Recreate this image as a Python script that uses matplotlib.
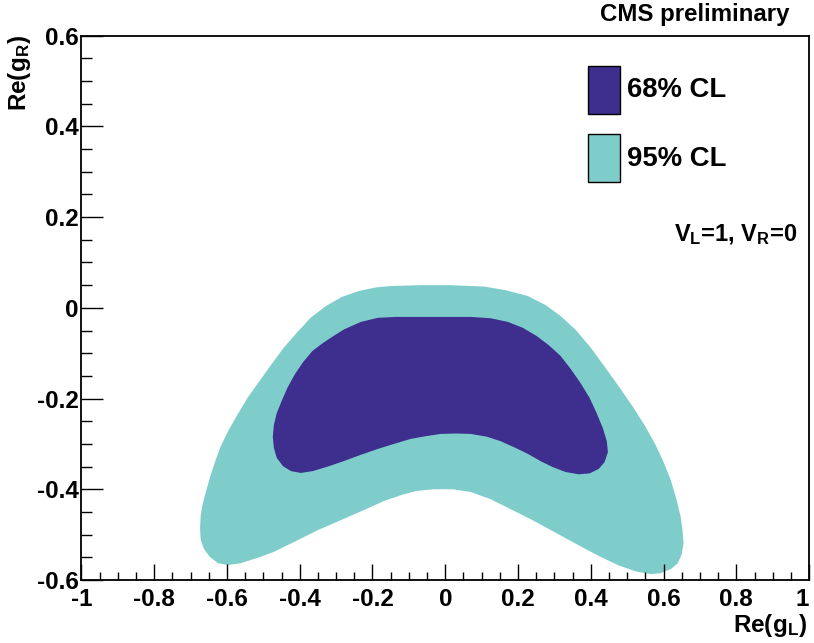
import numpy as np
import matplotlib
matplotlib.use("Agg")
from matplotlib import pyplot as plt
from matplotlib.patches import Rectangle

plt.rcParams['font.family'] = ['Liberation Sans', 'DejaVu Sans']
plt.rcParams['font.weight'] = 'bold'
plt.rcParams['axes.unicode_minus'] = False
plt.rcParams['mathtext.fontset'] = 'custom'
plt.rcParams['mathtext.rm'] = 'Liberation Sans:bold'
plt.rcParams['mathtext.bf'] = 'Liberation Sans:bold'
plt.rcParams['mathtext.it'] = 'Liberation Sans:bold'

# 95% CL contour, traced clockwise (Re(gL), Re(gR))
x95 = [-0.150, -0.067, 0.015, 0.106, 0.166, 0.227, 0.276, 0.317, 0.359, 0.400,
       0.441, 0.482, 0.518, 0.551, 0.578, 0.600, 0.620, 0.636, 0.647, 0.652,
       0.655, 0.650, 0.639, 0.620, 0.592, 0.565, 0.523, 0.474, 0.427, 0.391,
       0.345, 0.290, 0.235, 0.180, 0.125, 0.070, 0.021, -0.032, -0.081, -0.122,
       -0.169, -0.224, -0.287, -0.350, -0.405, -0.471, -0.515, -0.562, -0.598, -0.625,
       -0.647, -0.663, -0.672, -0.674, -0.672, -0.666, -0.658, -0.647, -0.633, -0.617,
       -0.595, -0.570, -0.543, -0.512, -0.479, -0.444, -0.408, -0.370, -0.328, -0.284,
       -0.238, -0.191]
y95 = [0.048, 0.050, 0.050, 0.047, 0.039, 0.026, 0.006, -0.018, -0.049, -0.088,
       -0.133, -0.179, -0.221, -0.263, -0.302, -0.340, -0.380, -0.424, -0.461, -0.490,
       -0.519, -0.543, -0.563, -0.576, -0.585, -0.587, -0.581, -0.567, -0.549, -0.534,
       -0.514, -0.490, -0.466, -0.444, -0.422, -0.406, -0.400, -0.400, -0.404, -0.413,
       -0.426, -0.446, -0.468, -0.490, -0.512, -0.538, -0.551, -0.563, -0.567, -0.563,
       -0.549, -0.532, -0.512, -0.486, -0.457, -0.430, -0.406, -0.375, -0.340, -0.305,
       -0.269, -0.234, -0.198, -0.163, -0.126, -0.088, -0.055, -0.022, 0.004, 0.024,
       0.037, 0.045]

# 68% CL contour
x68 = [-0.185, -0.136, -0.067, 0.001, 0.070, 0.125, 0.172, 0.213, 0.251, 0.284,
       0.317, 0.345, 0.372, 0.397, 0.416, 0.433, 0.444, 0.447, 0.438, 0.422,
       0.397, 0.367, 0.331, 0.295, 0.262, 0.227, 0.191, 0.152, 0.114, 0.070,
       0.029, -0.012, -0.054, -0.095, -0.141, -0.185, -0.232, -0.279, -0.323, -0.364,
       -0.397, -0.424, -0.446, -0.463, -0.471, -0.474, -0.471, -0.463, -0.449, -0.433,
       -0.413, -0.391, -0.365, -0.337, -0.309, -0.277, -0.232]
y68 = [-0.022, -0.020, -0.020, -0.020, -0.020, -0.023, -0.031, -0.044, -0.062, -0.082,
       -0.106, -0.135, -0.166, -0.199, -0.232, -0.265, -0.294, -0.318, -0.340, -0.355,
       -0.365, -0.367, -0.362, -0.351, -0.338, -0.322, -0.308, -0.294, -0.284, -0.278,
       -0.277, -0.278, -0.283, -0.289, -0.300, -0.311, -0.324, -0.338, -0.350, -0.360,
       -0.364, -0.360, -0.349, -0.331, -0.309, -0.285, -0.258, -0.232, -0.204, -0.175,
       -0.146, -0.120, -0.095, -0.078, -0.063, -0.047, -0.031]

xticks = [-1, -0.8, -0.6, -0.4, -0.2, 0, 0.2, 0.4, 0.6, 0.8, 1]
yticks = [-0.6, -0.4, -0.2, 0, 0.2, 0.4, 0.6]

col68 = "#3e2f8f"
col95 = "#7ecdcb"

fig = plt.figure(figsize=(8.14, 6.43), dpi=100)
ax = fig.add_axes([0.100, 0.098, 0.894, 0.8465])

ax.fill(x95, y95, color=col95, lw=0)
ax.fill(x68, y68, color=col68, lw=0)

ax.set_xlim(-1, 1)
ax.set_ylim(-0.6, 0.6)
ax.set_xticks(xticks)
ax.set_yticks(yticks)
ax.set_xticklabels(["%g" % v for v in xticks])
ax.set_yticklabels(["%g" % v for v in yticks])
ax.get_xticklabels()[-1].set_horizontalalignment('right')
ax.set_xticks(np.arange(-1, 1.001, 0.05), minor=True)
ax.set_yticks(np.arange(-0.6, 0.601, 0.05), minor=True)

ax.tick_params(axis='x', which='major', direction='in', length=11.5, width=1, labelsize=17.5, pad=6)
ax.tick_params(axis='x', which='minor', direction='in', length=5.8, width=1)
ax.tick_params(axis='y', which='major', direction='in', length=15.5, width=1, labelsize=17.5, pad=2)
ax.tick_params(axis='y', which='minor', direction='in', length=8, width=1)
for s in ax.spines.values():
    s.set_linewidth(1.3)

# legend boxes
ax.add_patch(Rectangle((0.696, 0.856), 0.044, 0.088, transform=ax.transAxes,
                       facecolor=col68, edgecolor='k', lw=1, clip_on=False))
ax.add_patch(Rectangle((0.696, 0.731), 0.044, 0.088, transform=ax.transAxes,
                       facecolor=col95, edgecolor='k', lw=1, clip_on=False))
ax.text(0.750, 0.900, "68% CL", transform=ax.transAxes, fontsize=19.8, fontweight='bold', va='center', ha='left')
ax.text(0.750, 0.773, "95% CL", transform=ax.transAxes, fontsize=19.8, fontweight='bold', va='center', ha='left')
ax.text(0.984, 0.634, r"$\mathbf{V_{L}}$=1, $\mathbf{V_{R}}$=0", transform=ax.transAxes,
        fontsize=17, fontweight='bold', va='center', ha='right')

fig.text(790 / 814, 1 - 14 / 643, "CMS preliminary", fontsize=17.3, fontweight='bold', ha='right', va='center')
fig.text(807 / 814, 1 - 612 / 643, r"Re($\mathbf{g_{L}}$)", fontsize=17.5, fontweight='bold', ha='right', va='top')
fig.text(6 / 814, 1 - 35 / 643, r"Re($\mathbf{g_{R}}$)", fontsize=17.5, fontweight='bold', ha='left', va='top', rotation=90)

fig.savefig("out.png", dpi=100)
